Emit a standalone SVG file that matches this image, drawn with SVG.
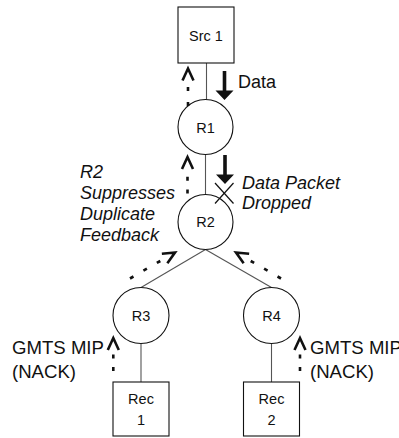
<svg xmlns="http://www.w3.org/2000/svg" width="399" height="438" viewBox="0 0 399 438">
  <style>
    .box { fill: #fff; stroke: #111; stroke-width: 1.1; }
    .node { fill: #fff; stroke: #111; stroke-width: 1.1; }
    .link { stroke: #555; stroke-width: 1.1; fill: none; }
    .nlabel { font-family: "Liberation Sans", Arial, sans-serif; font-size: 14.5px; fill: #111; text-anchor: middle; }
    .label { font-family: "Liberation Sans", Arial, sans-serif; font-size: 18px; fill: #111; }
    .nack { font-size: 18.6px; }
    .ital { font-style: italic; }
    .dots { stroke: #111; stroke-width: 2.6; fill: none; }
    .chev { stroke: #111; stroke-width: 2.6; fill: none; stroke-linejoin: miter; }
    .cross { stroke: #111; stroke-width: 1.2; }
  </style>
  <defs>
    <!-- open chevron head, pointing up, tip at origin -->
    <path id="chevron" class="chev" d="M-5.5,12 L0,0 L5.5,12"/>
    <!-- solid down arrow for data flow -->
    <path id="dataArrow" fill="#111" d="M-1.8,0 H1.8 V19.5 H9 L0,29 L-9,19.5 H-1.8 Z"/>
  </defs>

  <!-- connectors -->
  <g id="connectors">
    <line class="link" x1="206.5" y1="63" x2="206.5" y2="99.5"/>
    <line class="link" x1="205.5" y1="154.5" x2="205.5" y2="194.5"/>
    <line class="link" x1="205.5" y1="249.5" x2="141" y2="287.5"/>
    <line class="link" x1="205.5" y1="249.5" x2="271.5" y2="287.5"/>
    <line class="link" x1="141" y1="343.5" x2="141" y2="382"/>
    <line class="link" x1="271.5" y1="343.5" x2="271.5" y2="382"/>
  </g>

  <g id="src1">
    <rect class="box" x="178" y="7" width="56" height="56"/>
    <text class="nlabel" x="206" y="41">Src 1</text>
  </g>
  <g id="r1">
    <circle class="node" cx="205.5" cy="127" r="27.5"/>
    <text class="nlabel" x="205.5" y="132.5">R1</text>
  </g>
  <g id="r2">
    <circle class="node" cx="205.5" cy="222" r="27.5"/>
    <text class="nlabel" x="205.5" y="227">R2</text>
  </g>
  <g id="r3">
    <circle class="node" cx="141" cy="315.5" r="28"/>
    <text class="nlabel" x="141" y="321">R3</text>
  </g>
  <g id="r4">
    <circle class="node" cx="271.5" cy="315.5" r="28"/>
    <text class="nlabel" x="271.5" y="321">R4</text>
  </g>
  <g id="rec1">
    <rect class="box" x="113" y="382" width="56" height="54"/>
    <text class="nlabel" x="141" y="404">Rec</text>
    <text class="nlabel" x="141" y="425">1</text>
  </g>
  <g id="rec2">
    <rect class="box" x="243.5" y="382" width="56" height="54"/>
    <text class="nlabel" x="271.5" y="404">Rec</text>
    <text class="nlabel" x="271.5" y="425">2</text>
  </g>

  <!-- data flow arrows -->
  <g id="data-flow">
    <use href="#dataArrow" transform="translate(224.5,71)"/>
    <use href="#dataArrow" transform="translate(225,155)"/>
    <text class="label" x="238" y="88">Data</text>
    <!-- dropped packet mark -->
    <line class="cross" x1="215" y1="183" x2="233.5" y2="203.5"/>
    <line class="cross" x1="233.5" y1="183" x2="215" y2="203.5"/>
    <text class="label ital" x="242" y="188.5">Data Packet</text>
    <text class="label ital" x="242" y="209">Dropped</text>
  </g>

  <!-- feedback (dotted) arrows -->
  <g id="feedback">
    <line class="dots" x1="188" y1="106" x2="188" y2="86.5" stroke-dasharray="4 11"/>
    <use href="#chevron" transform="translate(188,68.5)"/>

    <line class="dots" x1="187.5" y1="193.4" x2="187.5" y2="176.8" stroke-dasharray="4 8.6"/>
    <use href="#chevron" transform="translate(187.5,157)"/>

    <line class="dots" x1="130" y1="278.5" x2="160.3" y2="261" stroke-dasharray="4 11.5"/>
    <use href="#chevron" transform="translate(175,252.5) rotate(60)"/>

    <line class="dots" x1="281" y1="278.5" x2="250.7" y2="261" stroke-dasharray="4 11.5"/>
    <use href="#chevron" transform="translate(236,252.5) rotate(-60)"/>

    <line class="dots" x1="113.3" y1="371" x2="113.3" y2="354.5" stroke-dasharray="4 8.5"/>
    <use href="#chevron" transform="translate(113.3,338)"/>

    <line class="dots" x1="300" y1="371" x2="300" y2="354.5" stroke-dasharray="4 8.5"/>
    <use href="#chevron" transform="translate(300,338)"/>
  </g>

  <g id="annotations">
    <text class="label ital" x="80" y="178">R2</text>
    <text class="label ital" x="80" y="199">Suppresses</text>
    <text class="label ital" x="80" y="220">Duplicate</text>
    <text class="label ital" x="80" y="241">Feedback</text>
    <text class="label nack" x="12" y="354">GMTS MIP</text>
    <text class="label nack" x="12" y="378">(NACK)</text>
    <text class="label nack" x="310" y="354">GMTS MIP</text>
    <text class="label nack" x="310" y="378">(NACK)</text>
  </g>
</svg>
